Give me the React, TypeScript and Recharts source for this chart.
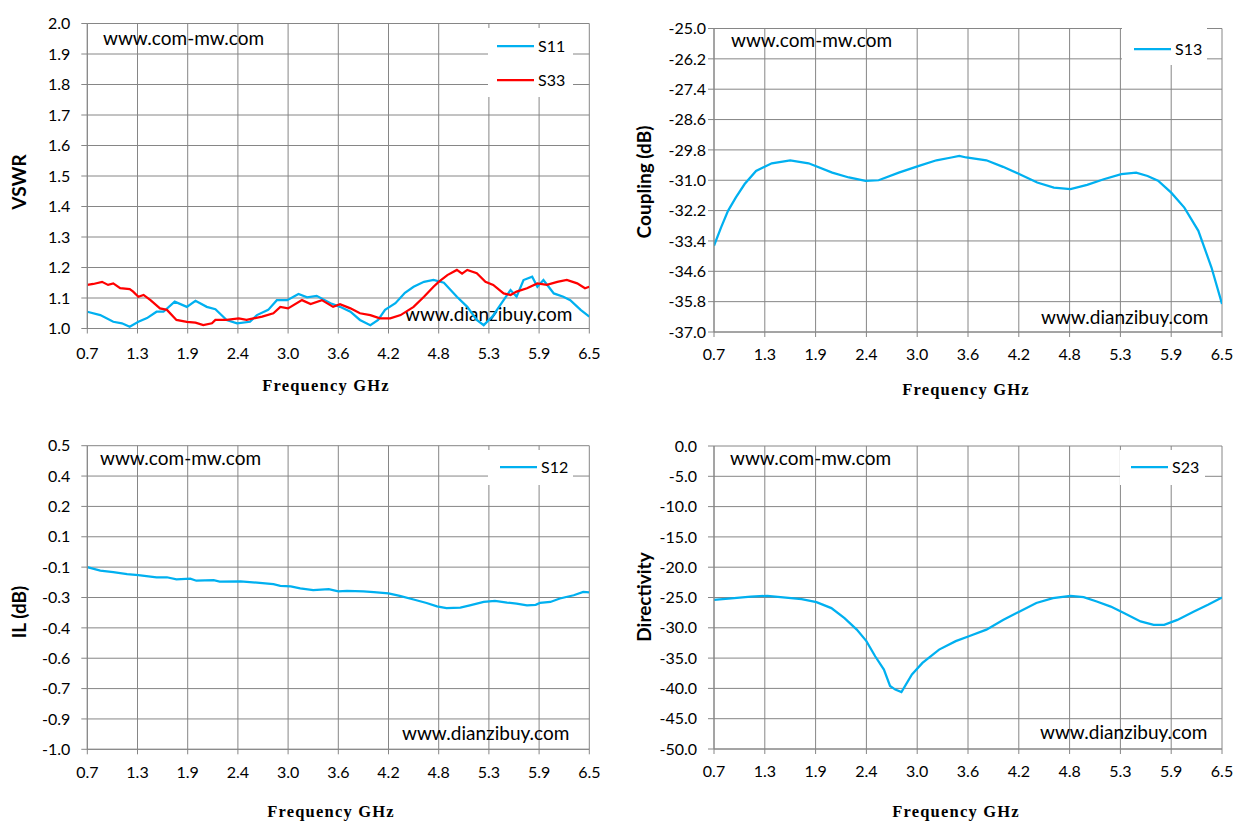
import React from "react";
import { LineChart, Line, XAxis, YAxis, CartesianGrid, Legend } from "recharts";

const BLUE = "#00b0f0";
const RED = "#ff0000";
const GRID = "#868686";

// shared frequency axis (GHz)
const freqTicks = [0.7, 1.28, 1.86, 2.44, 3.02, 3.6, 4.18, 4.76, 5.34, 5.92, 6.5];
const freqLabels = ["0.7", "1.3", "1.9", "2.4", "3.0", "3.6", "4.2", "4.8", "5.3", "5.9", "6.5"];

// VSWR
const vswrTicks = [1.0, 1.1, 1.2, 1.3, 1.4, 1.5, 1.6, 1.7, 1.8, 1.9, 2.0];
const vswrLabels = ["1.0", "1.1", "1.2", "1.3", "1.4", "1.5", "1.6", "1.7", "1.8", "1.9", "2.0"];

const s11Freq = [0.70, 0.85, 1.00, 1.10, 1.19, 1.29, 1.39, 1.50, 1.58, 1.71, 1.85, 1.95, 2.08, 2.18, 2.31, 2.43, 2.58, 2.66, 2.79, 2.89, 3.01, 3.14, 3.24, 3.35, 3.51, 3.62, 3.74, 3.85, 3.97, 4.06, 4.14, 4.26, 4.37, 4.47, 4.59, 4.70, 4.82, 4.97, 5.09, 5.20, 5.28, 5.38, 5.51, 5.59, 5.66, 5.74, 5.84, 5.90, 5.97, 6.09, 6.20, 6.28, 6.40, 6.50];
const s11 = [1.055, 1.044, 1.022, 1.017, 1.006, 1.022, 1.034, 1.055, 1.055, 1.088, 1.071, 1.091, 1.071, 1.063, 1.028, 1.017, 1.022, 1.044, 1.061, 1.093, 1.093, 1.113, 1.102, 1.107, 1.083, 1.071, 1.055, 1.028, 1.011, 1.028, 1.061, 1.083, 1.117, 1.137, 1.153, 1.159, 1.150, 1.104, 1.071, 1.028, 1.011, 1.039, 1.093, 1.126, 1.104, 1.159, 1.170, 1.137, 1.159, 1.115, 1.104, 1.093, 1.061, 1.039];

const s33Freq = [0.70, 0.77, 0.87, 0.94, 1.00, 1.08, 1.19, 1.23, 1.29, 1.35, 1.43, 1.54, 1.62, 1.73, 1.85, 1.95, 2.04, 2.14, 2.18, 2.31, 2.45, 2.54, 2.62, 2.72, 2.85, 2.93, 3.02, 3.18, 3.28, 3.41, 3.54, 3.62, 3.74, 3.85, 3.97, 4.08, 4.20, 4.32, 4.47, 4.59, 4.70, 4.76, 4.86, 4.97, 5.03, 5.09, 5.20, 5.30, 5.39, 5.51, 5.59, 5.66, 5.78, 5.90, 6.01, 6.13, 6.24, 6.36, 6.45, 6.50];
const s33 = [1.143, 1.146, 1.153, 1.143, 1.148, 1.132, 1.129, 1.121, 1.104, 1.110, 1.093, 1.066, 1.061, 1.028, 1.022, 1.019, 1.011, 1.017, 1.028, 1.028, 1.033, 1.028, 1.033, 1.039, 1.050, 1.071, 1.066, 1.093, 1.080, 1.093, 1.071, 1.080, 1.066, 1.050, 1.044, 1.033, 1.033, 1.044, 1.071, 1.104, 1.137, 1.153, 1.175, 1.192, 1.180, 1.192, 1.181, 1.153, 1.143, 1.115, 1.110, 1.121, 1.132, 1.148, 1.143, 1.153, 1.159, 1.148, 1.132, 1.137];

// Coupling
const couplingTicks = [-37, -35.8, -34.6, -33.4, -32.2, -31, -29.8, -28.6, -27.4, -26.2, -25];
const couplingLabels = ["-37.0", "-35.8", "-34.6", "-33.4", "-32.2", "-31.0", "-29.8", "-28.6", "-27.4", "-26.2", "-25.0"];

const s13Freq = [0.70, 0.78, 0.86, 0.95, 1.05, 1.18, 1.36, 1.57, 1.78, 2.05, 2.24, 2.43, 2.58, 2.81, 3.04, 3.24, 3.41, 3.50, 3.58, 3.81, 4.00, 4.19, 4.39, 4.58, 4.77, 4.96, 5.15, 5.35, 5.52, 5.65, 5.77, 5.92, 6.07, 6.23, 6.38, 6.50];
const s13 = [-33.59, -32.87, -32.21, -31.68, -31.15, -30.63, -30.33, -30.21, -30.33, -30.70, -30.89, -31.02, -31.00, -30.70, -30.43, -30.21, -30.10, -30.04, -30.10, -30.21, -30.47, -30.76, -31.09, -31.29, -31.35, -31.18, -30.96, -30.76, -30.70, -30.83, -31.02, -31.49, -32.08, -33.00, -34.45, -35.89];

// Insertion loss
const ilTicks = [-1.0, -0.85, -0.7, -0.55, -0.4, -0.25, -0.1, 0.05, 0.2, 0.35, 0.5];
const ilLabels = ["-1.0", "-0.9", "-0.7", "-0.6", "-0.4", "-0.3", "-0.1", "0.1", "0.2", "0.4", "0.5"];

const s12Freq = [0.70, 0.85, 1.00, 1.16, 1.29, 1.50, 1.62, 1.73, 1.89, 1.96, 2.16, 2.23, 2.47, 2.66, 2.85, 2.93, 3.05, 3.16, 3.31, 3.49, 3.60, 3.70, 3.89, 4.01, 4.18, 4.31, 4.47, 4.62, 4.74, 4.85, 5.01, 5.12, 5.28, 5.41, 5.55, 5.66, 5.78, 5.88, 5.93, 6.05, 6.16, 6.32, 6.43, 6.50];
const s12 = [-0.100, -0.117, -0.125, -0.134, -0.139, -0.150, -0.150, -0.160, -0.157, -0.167, -0.164, -0.171, -0.170, -0.177, -0.184, -0.192, -0.195, -0.205, -0.214, -0.209, -0.220, -0.217, -0.220, -0.224, -0.230, -0.242, -0.260, -0.277, -0.294, -0.302, -0.300, -0.289, -0.272, -0.267, -0.275, -0.280, -0.289, -0.286, -0.277, -0.272, -0.255, -0.239, -0.222, -0.225];

// Directivity
const dirTicks = [-50, -45, -40, -35, -30, -25, -20, -15, -10, -5, 0];
const dirLabels = ["-50.0", "-45.0", "-40.0", "-35.0", "-30.0", "-25.0", "-20.0", "-15.0", "-10.0", "-5.0", "0.0"];

const s23Freq = [0.70, 0.93, 1.12, 1.31, 1.58, 1.70, 1.87, 2.04, 2.19, 2.33, 2.44, 2.54, 2.64, 2.71, 2.77, 2.84, 2.96, 3.08, 3.27, 3.46, 3.61, 3.81, 4.00, 4.19, 4.38, 4.57, 4.77, 4.92, 5.07, 5.23, 5.38, 5.57, 5.72, 5.84, 5.99, 6.18, 6.34, 6.50];
const s23 = [-25.38, -25.10, -24.84, -24.72, -25.10, -25.27, -25.76, -26.75, -28.40, -30.30, -32.20, -34.70, -36.90, -39.60, -40.20, -40.60, -37.70, -35.80, -33.60, -32.20, -31.40, -30.30, -28.70, -27.30, -25.90, -25.10, -24.72, -24.93, -25.66, -26.50, -27.57, -28.95, -29.50, -29.50, -28.70, -27.30, -26.20, -25.00];

const toPoints = (freq: number[], values: number[]) =>
  freq.map((f, i) => ({ f, v: values[i] }));

const labelFor = (ticks: number[], labels: string[]) => (v: number) => {
  const i = ticks.findIndex((t) => Math.abs(t - v) < 1e-6);
  return i >= 0 ? labels[i] : "";
};

const TEXT_FONT = "Lato, 'Open Sans', sans-serif";
const X_AXIS_H = 30;

type Rect = { x: number; y: number; w: number; h: number };
type Series = { name: string; color: string; data: { f: number; v: number }[] };
type LegendCfg = Rect & { lineX: number; rows: number[] };

type PanelProps = {
  box: Rect;
  plot: Rect;
  yDomain: [number, number];
  yTicks: number[];
  yLabels: string[];
  yTickGap: number;
  xTickGap: number;
  yTitle: string;
  yTitlePos: [number, number];
  xTitlePos: [number, number];
  wmTop: [number, number];
  wmBottom: [number, number];
  legend: LegendCfg;
  series: Series[];
};

function LegendBox({ payload, cfg }: { payload?: any[]; cfg: LegendCfg }) {
  return (
    <div style={{ width: cfg.w, height: cfg.h, background: "#fff", position: "relative" }}>
      {(payload || []).map((p, i) => (
        <div
          key={i}
          style={{
            position: "absolute",
            left: cfg.lineX,
            top: cfg.rows[i] - 12,
            height: 24,
            display: "flex",
            alignItems: "center",
            whiteSpace: "nowrap",
          }}
        >
          <svg width={37} height={4} style={{ display: "block" }}>
            <line x1={0} y1={2} x2={37} y2={2} stroke={p.color} strokeWidth={2.25} />
          </svg>
          <span style={{ marginLeft: 4, fontFamily: TEXT_FONT, fontSize: 16, color: "#000", lineHeight: "24px" }}>
            {p.value}
          </span>
        </div>
      ))}
    </div>
  );
}

function Panel(p: PanelProps) {
  const { box, plot } = p;
  const margin = {
    top: plot.y - box.y,
    right: box.x + box.w - (plot.x + plot.w),
    bottom: box.y + box.h - (plot.y + plot.h) - X_AXIS_H,
    left: 0,
  };
  const lx = (x: number) => x - box.x;
  const ly = (y: number) => y - box.y;
  const [ytx, yty] = [lx(p.yTitlePos[0]), ly(p.yTitlePos[1])];

  return (
    <div style={{ position: "absolute", left: box.x, top: box.y }}>
      <LineChart width={box.w} height={box.h} margin={margin}>
        <CartesianGrid stroke={GRID} strokeWidth={1} />
        <XAxis
          type="number"
          dataKey="f"
          domain={[0.7, 6.5]}
          ticks={freqTicks}
          interval={0}
          height={X_AXIS_H}
          tickFormatter={labelFor(freqTicks, freqLabels)}
          stroke={GRID}
          tickSize={5}
          tickMargin={p.xTickGap}
          tick={{ fill: "#000", fontSize: 16, fontFamily: TEXT_FONT }}
          allowDataOverflow
        />
        <YAxis
          type="number"
          domain={p.yDomain}
          ticks={p.yTicks}
          interval={0}
          width={plot.x - box.x}
          tickFormatter={labelFor(p.yTicks, p.yLabels)}
          stroke={GRID}
          tickSize={6}
          tickMargin={p.yTickGap}
          tick={{ fill: "#000", fontSize: 16, fontFamily: TEXT_FONT }}
          allowDataOverflow
        />
        {p.series.map((s) => (
          <Line
            key={s.name}
            data={s.data}
            dataKey="v"
            name={s.name}
            type="linear"
            stroke={s.color}
            strokeWidth={2.25}
            dot={false}
            activeDot={false}
            isAnimationActive={false}
          />
        ))}
        <Legend
          layout="vertical"
          align="center"
          verticalAlign="middle"
          wrapperStyle={{ left: lx(p.legend.x), top: ly(p.legend.y), width: p.legend.w, height: p.legend.h }}
          content={(props: any) => <LegendBox payload={props.payload} cfg={p.legend} />}
        />
        <text
          x={ytx}
          y={yty}
          transform={`rotate(-90 ${ytx} ${yty})`}
          textAnchor="middle"
          dominantBaseline="central"
          fontFamily={TEXT_FONT}
          fontWeight="bold"
          fontSize={19}
          fill="#000"
        >
          {p.yTitle}
        </text>
        <text
          x={lx(p.xTitlePos[0])}
          y={ly(p.xTitlePos[1])}
          textAnchor="middle"
          dominantBaseline="central"
          fontFamily="'Liberation Serif', 'DejaVu Serif', serif"
          fontWeight="bold"
          fontSize={16.5}
          letterSpacing={1.2}
          fill="#000"
        >
          Frequency GHz
        </text>
        <text x={lx(p.wmTop[0])} y={ly(p.wmTop[1])} fontFamily={TEXT_FONT} fontSize={19} fill="#000">
          www.com-mw.com
        </text>
        <text x={lx(p.wmBottom[0])} y={ly(p.wmBottom[1])} fontFamily={TEXT_FONT} fontSize={19} fill="#000">
          www.dianzibuy.com
        </text>
      </LineChart>
    </div>
  );
}

export default function App() {
  return (
    <div style={{ position: "relative", width: 1253, height: 833, background: "#fff", overflow: "hidden" }}>
      <style>{`body{margin:0;}`}</style>
      <Panel
        box={{ x: 0, y: 0, w: 626, h: 416 }}
        plot={{ x: 87.3, y: 23.5, w: 502, h: 305 }}
        yDomain={[1, 2]}
        yTicks={vswrTicks}
        yLabels={vswrLabels}
        yTickGap={11}
        xTickGap={14}
        yTitle="VSWR"
        yTitlePos={[18, 182]}
        xTitlePos={[326, 385]}
        wmTop={[103, 45]}
        wmBottom={[405, 321]}
        legend={{ x: 488, y: 28, w: 85, h: 69, lineX: 9, rows: [18, 52] }}
        series={[
          { name: "S11", color: BLUE, data: toPoints(s11Freq, s11) },
          { name: "S33", color: RED, data: toPoints(s33Freq, s33) },
        ]}
      />
      <Panel
        box={{ x: 626, y: 0, w: 627, h: 416 }}
        plot={{ x: 714, y: 28.5, w: 508, h: 303.5 }}
        yDomain={[-37, -25]}
        yTicks={couplingTicks}
        yLabels={couplingLabels}
        yTickGap={2}
        xTickGap={12}
        yTitle="Coupling (dB)"
        yTitlePos={[643, 182]}
        xTitlePos={[966, 389]}
        wmTop={[731, 47]}
        wmBottom={[1041, 324]}
        legend={{ x: 1122, y: 28, w: 85, h: 37, lineX: 12, rows: [21] }}
        series={[{ name: "S13", color: BLUE, data: toPoints(s13Freq, s13) }]}
      />
      <Panel
        box={{ x: 0, y: 416, w: 626, h: 417 }}
        plot={{ x: 87.3, y: 445.7, w: 502, h: 303.6 }}
        yDomain={[-1, 0.5]}
        yTicks={ilTicks}
        yLabels={ilLabels}
        yTickGap={11}
        xTickGap={12}
        yTitle="IL (dB)"
        yTitlePos={[18, 612]}
        xTitlePos={[331, 811]}
        wmTop={[100, 465]}
        wmBottom={[402, 740]}
        legend={{ x: 488, y: 450, w: 85, h: 35, lineX: 12, rows: [17] }}
        series={[{ name: "S12", color: BLUE, data: toPoints(s12Freq, s12) }]}
      />
      <Panel
        box={{ x: 626, y: 416, w: 627, h: 417 }}
        plot={{ x: 714, y: 446, w: 508, h: 303 }}
        yDomain={[-50, 0]}
        yTicks={dirTicks}
        yLabels={dirLabels}
        yTickGap={11}
        xTickGap={12}
        yTitle="Directivity"
        yTitlePos={[643, 597]}
        xTitlePos={[956, 811]}
        wmTop={[730, 465]}
        wmBottom={[1040, 739]}
        legend={{ x: 1120, y: 450, w: 85, h: 35, lineX: 11, rows: [17] }}
        series={[{ name: "S23", color: BLUE, data: toPoints(s23Freq, s23) }]}
      />
    </div>
  );
}
